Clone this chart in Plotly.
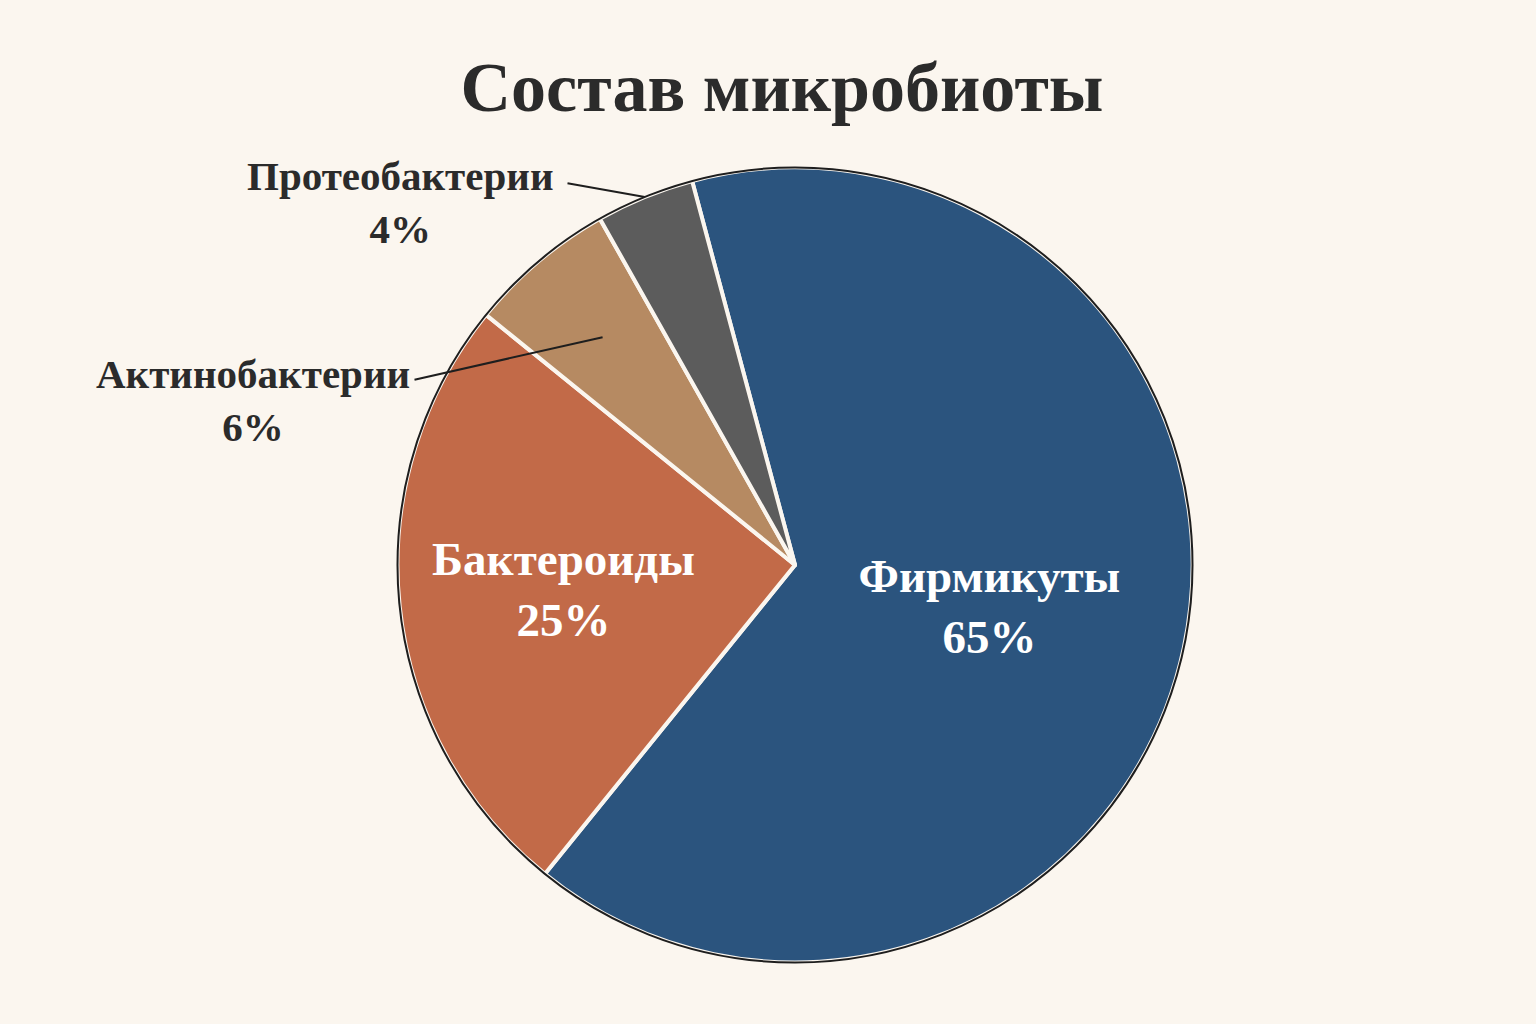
import math
import plotly.graph_objects as go

# состав микробиоты кишечника, %
labels = ["Фирмикуты", "Бактероиды", "Актинобактерии", "Протеобактерии"]
values = [65, 25, 6, 4]
colors = ["#2B547E", "#C26A48", "#B68A62", "#5C5C5C"]
inside = [True, True, False, False]

bg = "#FBF6EF"
ink = "#2b2b2b"
serif = "Liberation Serif"

W, H = 1536, 1024
rotation = -15
# круг: центр и радиус в пикселях
cx, cy, r = 795, 565, 397.5
dom = dict(x=[(cx - r) / W, (cx + r) / W], y=[1 - (cy + r) / H, 1 - (cy - r) / H])

fig = go.Figure()

# сама диаграмма
fig.add_trace(go.Pie(
    labels=labels,
    values=values,
    sort=False,
    direction="clockwise",
    rotation=rotation,
    marker=dict(colors=colors, line=dict(color=bg, width=4)),
    text=[f"<b>{l}<br>{v}%</b>" if i else "" for l, v, i in zip(labels, values, inside)],
    textinfo="text",
    textposition="inside",
    insidetextfont=dict(family=serif, size=47, color="white"),
    insidetextorientation="horizontal",
    showlegend=False,
    hoverinfo="label+percent",
    domain=dom,
))

# тонкий тёмный контур по краю круга
fig.add_trace(go.Pie(
    values=[1],
    marker=dict(colors=["rgba(0,0,0,0)"], line=dict(color="#1e1e1e", width=2)),
    textinfo="none",
    hoverinfo="skip",
    showlegend=False,
    domain=dom,
))

# подписи мелких долей снаружи, с выносными линиями
outside_text = {"Актинобактерии": (253, 400), "Протеобактерии": (400, 202)}
line_tail = {"Актинобактерии": (413, 380), "Протеобактерии": (566, 183)}
line_depth = {"Актинобактерии": 0.75, "Протеобактерии": 1.0}

total = sum(values)
start = rotation
for lab, val in zip(labels, values):
    span = 360 * val / total
    mid = math.radians(start + span / 2)
    start += span
    if lab not in outside_text:
        continue
    hx = cx + line_depth[lab] * r * math.sin(mid)
    hy = cy - line_depth[lab] * r * math.cos(mid)
    tx, ty = line_tail[lab]
    fig.add_annotation(
        x=hx / W, y=1 - hy / H, xref="paper", yref="paper",
        ax=tx - hx, ay=ty - hy, text="",
        showarrow=True, arrowhead=0, arrowwidth=2, arrowcolor="#1e1e1e",
    )
    px, py = outside_text[lab]
    fig.add_annotation(
        x=px / W, y=1 - py / H, xref="paper", yref="paper",
        xanchor="center", yanchor="middle",
        text=f"<b>{lab}<br>{val}%</b>", showarrow=False,
        font=dict(family=serif, size=41, color=ink),
        align="center",
    )

fig.update_layout(
    width=W,
    height=H,
    paper_bgcolor=bg,
    plot_bgcolor=bg,
    margin=dict(l=0, r=0, t=0, b=0),
    title=dict(
        text="<b>Состав микробиоты</b>",
        x=782 / W,
        xanchor="center",
        y=1 - 86 / H,
        yanchor="middle",
        font=dict(family=serif, size=70, color=ink),
    ),
)

fig.write_html(
    "out.html",
    config={"displayModeBar": False},
    post_script="document.body.style.margin='0';",
)
